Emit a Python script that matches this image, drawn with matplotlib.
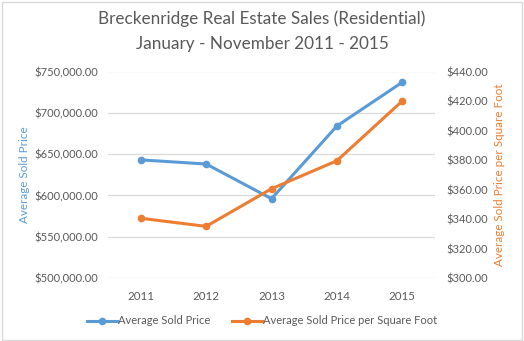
import matplotlib
matplotlib.use('Agg')
import matplotlib.pyplot as plt
from matplotlib.lines import Line2D
from matplotlib.patches import Rectangle
from matplotlib.ticker import FuncFormatter

years = ['2011', '2012', '2013', '2014', '2015']
avg_price = [643000, 638000, 596000, 684000, 737000]  # 平均販売価格
avg_sqft = [340.5, 335.0, 360.5, 379.5, 420.0]  # 平方フィート単価

BLUE = '#5B9BD5'
ORANGE = '#ED7D31'
GRAY = '#595959'
GRID = '#D9D9D9'

plt.rcParams['font.family'] = ['Lato', 'DejaVu Sans']

fig = plt.figure(figsize=(5.24, 3.41), dpi=100)
fig.patches.append(Rectangle((0.003, 0.003), 0.994, 0.992, transform=fig.transFigure,
                             fill=False, edgecolor=GRID, linewidth=1.0))

ax1 = fig.add_axes([108 / 524, 1 - 278 / 341, 327 / 524, 206.5 / 341])
ax2 = ax1.twinx()

x = range(len(years))
ax1.plot(x, avg_price, color=BLUE, lw=2.2, marker='o', ms=4.5, solid_capstyle='round')
ax2.plot(x, avg_sqft, color=ORANGE, lw=2.2, marker='o', ms=4.5, solid_capstyle='round')

ax1.set_xlim(-0.5, 4.5)
ax1.set_ylim(500000, 750000)
ax1.set_yticks(range(500000, 750001, 50000))
ax2.set_ylim(300, 440)
ax2.set_yticks(range(300, 441, 20))
ax1.set_xticks(list(x))
ax1.set_xticklabels(years)

ax1.yaxis.set_major_formatter(FuncFormatter(lambda v, p: '${:,.2f}'.format(v)))
ax2.yaxis.set_major_formatter(FuncFormatter(lambda v, p: '${:,.2f}'.format(v)))

ax1.grid(axis='y', color=GRID, lw=0.9)
ax1.set_axisbelow(True)
for ax in (ax1, ax2):
    for s in ax.spines.values():
        s.set_visible(False)
    ax.tick_params(length=0, labelsize=8.0, colors=GRAY)
ax1.tick_params(axis='y', pad=7)
ax2.tick_params(axis='y', pad=8.5)
ax1.tick_params(axis='x', labelsize=8.3, pad=9)

ax1.set_ylabel('Average Sold Price', color=BLUE, fontsize=8.4, labelpad=3)
ax2.set_ylabel('Average Sold Price per Square Foot', color=ORANGE, fontsize=8.4, labelpad=4)

fig.text(0.5, 1 - 19 / 341, 'Breckenridge Real Estate Sales (Residential)', ha='center', va='center',
         fontsize=12.3, color=GRAY)
fig.text(0.5, 1 - 44 / 341, 'January - November 2011 - 2015', ha='center', va='center',
         fontsize=12.3, color=GRAY)

handles = [Line2D([], [], color=BLUE, lw=2.2, marker='o', ms=4.5),
           Line2D([], [], color=ORANGE, lw=2.2, marker='o', ms=4.5)]
fig.legend(handles, ['Average Sold Price', 'Average Sold Price per Square Foot'],
           loc='center', bbox_to_anchor=(0.5, 1 - 321 / 341), ncol=2, frameon=False,
           fontsize=8.0, labelcolor=GRAY, handlelength=2.7, handletextpad=0.1, columnspacing=2.0)

fig.savefig('out.png', dpi=100)
